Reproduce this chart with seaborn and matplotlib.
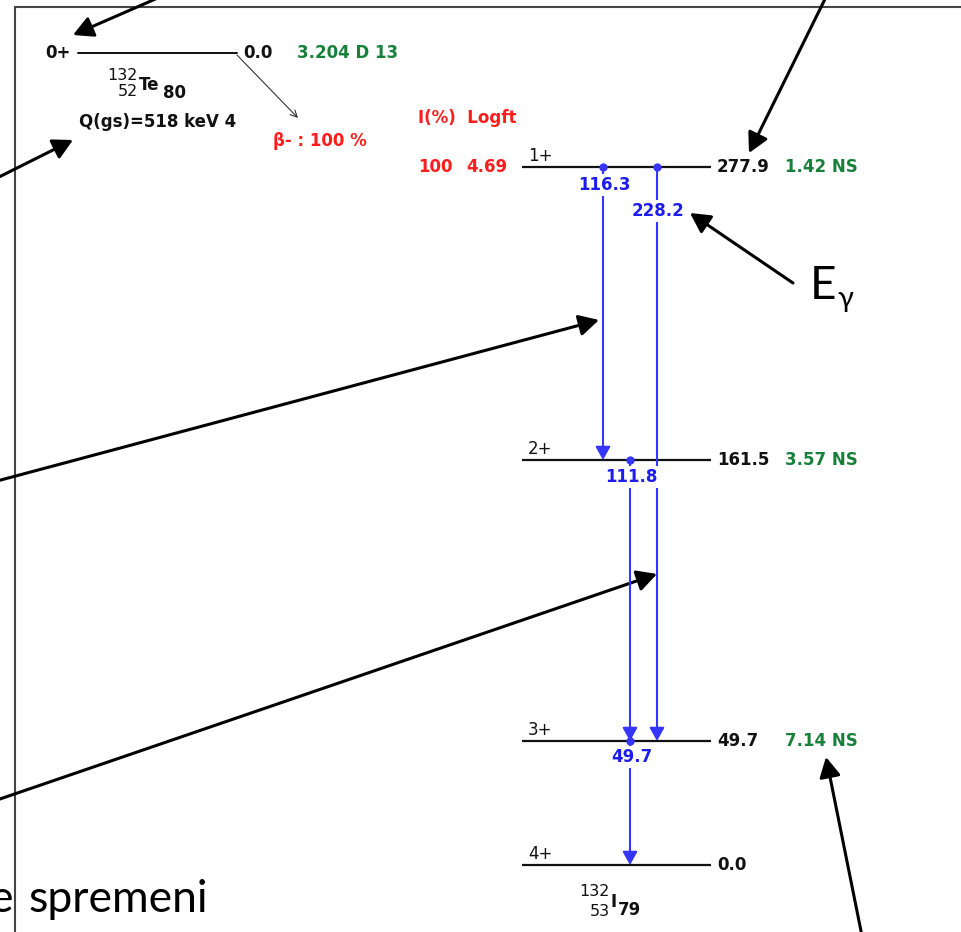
import numpy as np
import matplotlib
matplotlib.use("Agg")
import matplotlib.pyplot as plt
import seaborn as sns

# parent 132Te (ground state)
parent_jp = "0+"
parent_e = 0.0
parent_t = "3.204 D 13"
parent_q = "Q(gs)=518 keV 4"
beta_branch = "β- : 100 %"

# daughter 132I levels
level_e = [277.9, 161.5, 49.7, 0.0]
level_jp = ["1+", "2+", "3+", "4+"]
level_t = ["1.42 NS", "3.57 NS", "7.14 NS", ""]
feed_i = ["100", "", "", ""]
feed_logft = ["4.69", "", "", ""]

# gamma transitions
gamma_e = [116.3, 228.2, 111.8, 49.7]
gamma_from = [277.9, 277.9, 161.5, 49.7]
gamma_to = [161.5, 49.7, 49.7, 0.0]

# layout (pixels of the 961x932 canvas)
W, H = 961, 932
level_row = [167, 460, 741, 865]
gamma_col = [603, 657, 630, 630]
gamma_lab_dy = [18, 44, 17, 16]
PT = 0.72  # px -> pt at 100 dpi

blue_txt = "#1c1cee"
blue_ln = "#3535ff"
red = "#ff1c1c"
green = "#17803a"
ink = "#111111"
fs = 12

sns.set_theme(style="white")
plt.rcParams["font.family"] = ["DejaVu Sans"]
plt.rcParams["text.color"] = ink

fig = plt.figure(figsize=(W / 100, H / 100), dpi=100)

# overlay in pixel coords: frame, parent, slide annotations
over = fig.add_axes([0, 0, 1, 1])
over.set_xlim(0, W)
over.set_ylim(H, 0)
over.axis("off")

# level scheme axes: y in keV, drawn on the layout rows
top_px, bot_px = min(level_row), max(level_row)
ax = fig.add_axes([0, (H - bot_px) / H, 1, (bot_px - top_px) / H])
E_knots = np.array(level_e[::-1])
F_knots = (bot_px - np.array(level_row[::-1])) / (bot_px - top_px)
ax.set_yscale("function", functions=(lambda e: np.interp(e, E_knots, F_knots),
                                     lambda f: np.interp(f, F_knots, E_knots)))

# frame of the screenshot
over.plot([15, W + 5], [7, 7], color="#444444", lw=1.5)
over.plot([15, 15], [7, H + 5], color="#444444", lw=1.5)

# parent
over.plot([78, 237], [53, 53], color=ink, lw=1.4)
over.text(45, 53, parent_jp, fontsize=fs, fontweight="bold", va="center")
over.text(243, 53, f"{parent_e:.1f}", fontsize=fs, fontweight="bold", va="center")
over.text(297, 53, parent_t, fontsize=fs, fontweight="bold", va="center", color=green)
over.text(138, 76, "132", fontsize=11.5, ha="right", va="center")
over.text(138, 92, "52", fontsize=11.5, ha="right", va="center")
over.text(139, 85, "Te", fontsize=fs, fontweight="bold", va="center")
over.text(163, 93, "80", fontsize=fs, fontweight="bold", va="center")
over.text(79, 122, parent_q, fontsize=fs, fontweight="bold", va="center")
over.annotate("", xy=(298, 118), xytext=(237, 55),
              arrowprops=dict(arrowstyle="->", lw=0.8, color="#333333", shrinkA=0, shrinkB=0))
over.text(273, 141, beta_branch, fontsize=fs, fontweight="bold", va="center", color=red)
over.text(418, 118, "I(%)  Logft", fontsize=fs, fontweight="bold", va="center", color=red)

# daughter nuclide label
over.text(610, 892, "132", fontsize=11.5, ha="right", va="center")
over.text(610, 911, "53", fontsize=11.5, ha="right", va="center")
over.text(610, 902, "I", fontsize=fs, fontweight="bold", va="center")
over.text(618, 910, "79", fontsize=fs, fontweight="bold", va="center")

# levels
ax.hlines(level_e, 522, 711, color=ink, lw=1.6, clip_on=False)
for e, jp, t, fi, lf in zip(level_e, level_jp, level_t, feed_i, feed_logft):
    ax.annotate(jp, (528, e), xytext=(0, 1.5), textcoords="offset points",
                ha="left", va="bottom", fontsize=fs)
    ax.annotate(f"{e:.1f}", (717, e), ha="left", va="center", fontsize=fs, fontweight="bold")
    ax.annotate(t, (785, e), ha="left", va="center", fontsize=fs, fontweight="bold", color=green)
    ax.annotate(fi, (418, e), ha="left", va="center", fontsize=fs, fontweight="bold", color=red)
    ax.annotate(lf, (466, e), ha="left", va="center", fontsize=fs, fontweight="bold", color=red)

# gammas
for x, g, fr, to, dy in zip(gamma_col, gamma_e, gamma_from, gamma_to, gamma_lab_dy):
    ax.annotate("", xy=(x, to), xytext=(x, fr), annotation_clip=False,
                arrowprops=dict(arrowstyle="-|>,head_length=0.5,head_width=0.28", color=blue_ln,
                                lw=1.5, mutation_scale=16, shrinkA=0, shrinkB=0))
    ax.annotate(f"{g:.1f}", (x, fr), xytext=(1, -dy * PT), textcoords="offset points",
                ha="center", va="center", fontsize=fs, fontweight="bold", color=blue_txt,
                bbox=dict(fc="white", ec="none", pad=1.2), zorder=5)
sns.scatterplot(x=gamma_col, y=gamma_from, ax=ax, color=blue_ln, s=36,
                linewidth=0, zorder=4, legend=False, clip_on=False)

ax.set_xlim(0, W)
ax.set_ylim(0, max(level_e))
ax.axis("off")

# slide annotations
arrows = [((160, -3), (73, 35)), ((-3, 178), (73, 140)), ((826, -3), (749, 153)),
          ((793, 283), (690, 213)), ((-3, 481), (599, 320)), ((-3, 800), (657, 574)),
          ((862, 936), (826, 757))]
for tail, tip in arrows:
    over.annotate("", xy=tip, xytext=tail, annotation_clip=False,
                  arrowprops=dict(arrowstyle="-|>,head_length=0.6,head_width=0.32", color="black",
                                  lw=2.2, mutation_scale=20, shrinkA=0, shrinkB=0), zorder=6)

slide_font = ["Lato", "DejaVu Sans"]
over.text(810, 299, "E", fontsize=33, family=slide_font, va="baseline", color="black")
over.text(837, 307, "γ", fontsize=21, family=slide_font, va="baseline", color="black")
over.text(13, 912, "e", fontsize=32, family=slide_font, ha="right", va="baseline", color="black")
over.text(28, 912, "spremeni", fontsize=32, family=slide_font, va="baseline", color="black")

fig.savefig("out.png", dpi=100)
